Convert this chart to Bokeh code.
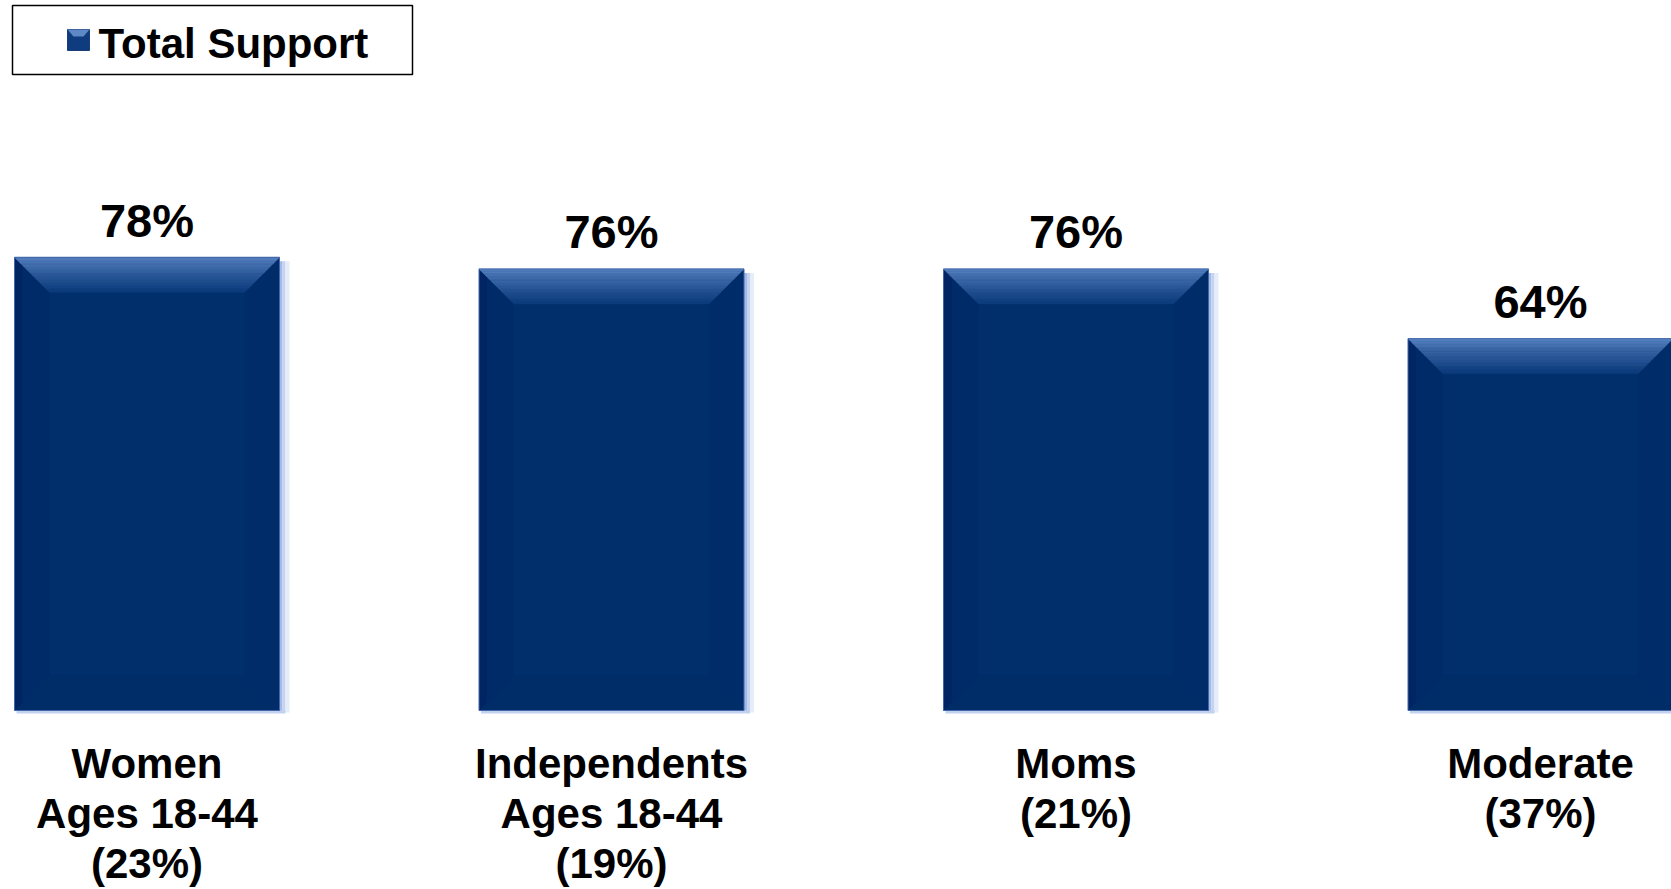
from bokeh.plotting import figure
from bokeh.models import Range1d
from bokeh.core.properties import value
from bokeh.embed import file_html
from bokeh.resources import INLINE

# ---------------- data ----------------
categories = [
    "Women\nAges 18-44\n(23%)",
    "Independents\nAges 18-44\n(19%)",
    "Moms\n(21%)",
    "Moderate\n(37%)",
]
support = [78, 76, 76, 64]
value_labels = ["78%", "76%", "76%", "64%"]
series_name = "Total Support"

# ---------------- layout / style ----------------
W, H = 1671, 889
PX_X = 464.5          # pixels per category step
PX_Y = 5.81           # pixels per percentage point
X0 = -146.5 / PX_X
X1 = X0 + W / PX_X
Y1 = 710.0 / PX_Y
Y0 = Y1 - H / PX_Y
FONT = value("Liberation Sans")
TXT_FIX = -15         # baseline correction for svg text placement

MAIN = "#002F6C"
BAR_W = 265 / PX_X
BX = 35 / PX_X
BY = 35 / PX_Y


def fx(px):
    return X0 + px / PX_X


def fy(py):
    return Y1 - py / PX_Y


def mix(c1, c2, t):
    a = [int(c1[i:i + 2], 16) for i in (1, 3, 5)]
    b = [int(c2[i:i + 2], 16) for i in (1, 3, 5)]
    return "#%02x%02x%02x" % tuple(round(a[j] + (b[j] - a[j]) * t) for j in range(3))


p = figure(width=W, height=H, x_range=Range1d(X0, X1), y_range=Range1d(Y0, Y1),
           output_backend="svg", toolbar_location=None,
           x_axis_location=None, y_axis_location=None,
           min_border=0, min_border_left=0, min_border_right=0,
           min_border_top=0, min_border_bottom=0)
p.grid.visible = False
p.outline_line_color = None
p.background_fill_color = "white"
p.border_fill_color = "white"

xs = list(range(len(support)))
lefts = [x - BAR_W / 2 for x in xs]
rights = [x + BAR_W / 2 for x in xs]

# soft glow on right and bottom edges
for d0, d1, col in [(0, 3, "#A3B9E6"), (3, 6, "#C4D3F1"), (6, 10, "#E6EDF9")]:
    p.quad(left=[r + d0 / PX_X for r in rights], right=[r + d1 / PX_X for r in rights],
           top=[v - 4 / PX_Y for v in support], bottom=[-2 / PX_Y] * len(xs),
           fill_color=col, line_color=None)
p.quad(left=[l + 2 / PX_X for l in lefts], right=[r + 6 / PX_X for r in rights],
       top=[0] * len(xs), bottom=[-3 / PX_Y] * len(xs),
       fill_color="#C2D1EF", line_color=None)

# bar body
p.vbar(x=xs, width=BAR_W, top=support, bottom=0, fill_color=MAIN, line_color=None)

# bevels
left_b, right_b, bot_b, strip = [], [], [], []
for l, r, v in zip(lefts, rights, support):
    left_b.append(([l, l, l + BX, l + BX], [0, v, v - BY, BY]))
    right_b.append(([r, r, r - BX, r - BX], [0, v, v - BY, BY]))
    bot_b.append(([l, r, r - BX, l + BX], [0, 0, BY, BY]))
    strip.append(([l, l + 8 / PX_X, l + 8 / PX_X, l], [0, 8 / PX_Y, v - 8 / PX_Y, v]))
p.patches([a for a, b in bot_b], [b for a, b in bot_b], fill_color="#002C68", line_color=None)
p.patches([a for a, b in left_b], [b for a, b in left_b], fill_color="#002B69", line_color=None)
p.patches([a for a, b in strip], [b for a, b in strip], fill_color="#002562", line_color=None)
p.patches([a for a, b in right_b], [b for a, b in right_b], fill_color="#002C6A", line_color=None)

N = 24
for k in range(N):
    t = k / (N - 1)
    col = mix("#5A84C4", "#0E3D7D", t ** 0.8)
    bxs, bys = [], []
    for l, r, v in zip(lefts, rights, support):
        yh = v - k * BY / N
        yl = v - (k + 1) * BY / N
        ih = k * BX / N
        il = (k + 1) * BX / N
        bxs.append([l + ih, r - ih, r - il, l + il])
        bys.append([yh, yh, yl, yl])
    p.patches(bxs, bys, fill_color=col, line_color=col, line_width=0.5)

# thin edge
p.quad(left=lefts, right=rights, top=support, bottom=[0] * len(xs),
       fill_color=None, line_color="#4266A8", line_width=1)

# value labels
p.text(x=xs, y=support, text=value_labels, text_align="center", text_baseline="alphabetic",
       y_offset=-22 + TXT_FIX, text_font=FONT, text_font_style="bold", text_font_size="47px",
       text_color="black")

# category labels (one glyph per line)
lines = [c.split("\n") for c in categories]
for k in range(max(len(l) for l in lines)):
    cx = [x for x, l in zip(xs, lines) if len(l) > k]
    ct = [l[k] for l in lines if len(l) > k]
    p.text(x=cx, y=[0] * len(cx), text=ct, text_align="center", text_baseline="alphabetic",
           y_offset=68 + 50 * k + TXT_FIX, text_font=FONT, text_font_style="bold",
           text_font_size="42px", text_color="black")

# legend drawn as a framed box at top-left
p.quad(left=[fx(12)], right=[fx(412)], top=[fy(5)], bottom=[fy(74)],
       fill_color="white", line_color="black", line_width=1.5)
p.quad(left=[fx(67)], right=[fx(89)], top=[fy(29)], bottom=[fy(50)],
       fill_color="#0F3C7E", line_color="#1A3F78", line_width=1)
p.patches([[fx(67), fx(89), fx(83), fx(73)]], [[fy(29), fy(29), fy(36), fy(36)]],
          fill_color="#5F88C6", line_color=None)
p.text(x=[fx(98)], y=[fy(58)], text=[series_name], text_align="left",
       text_baseline="alphabetic", y_offset=TXT_FIX, text_font=FONT, text_font_style="bold",
       text_font_size="42px", text_color="black")

open("out.html", "w").write(file_html(p, INLINE))
